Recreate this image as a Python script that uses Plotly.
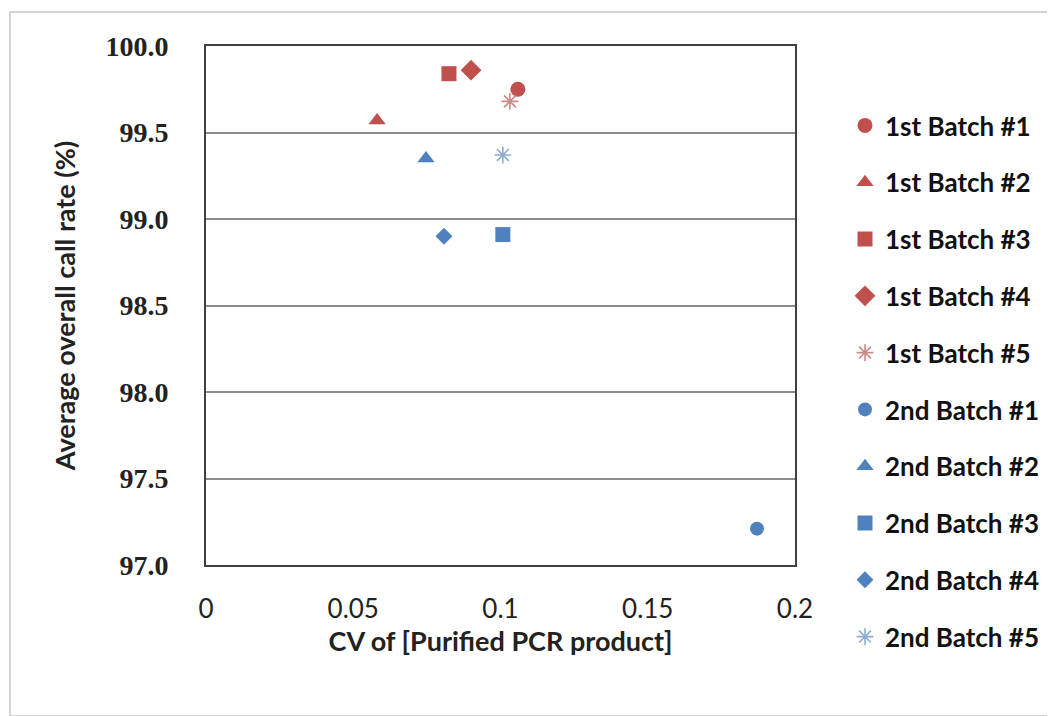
import plotly.graph_objects as go

names = ["1st Batch #1", "1st Batch #2", "1st Batch #3", "1st Batch #4", "1st Batch #5",
         "2nd Batch #1", "2nd Batch #2", "2nd Batch #3", "2nd Batch #4", "2nd Batch #5"]
cv_values = [0.1059, 0.0581, 0.0825, 0.0900, 0.1032,
             0.1871, 0.0747, 0.1008, 0.0808, 0.1008]
call_rates = [99.75, 99.57, 99.84, 99.86, 99.68,
              97.21, 99.35, 98.91, 98.90, 99.37]
symbols = ["circle", "triangle-up", "square", "diamond", "asterisk-open",
           "circle", "triangle-up", "square", "diamond", "asterisk-open"]
sizes = [15, 15, 15, 16, 14, 14, 15, 15, 13, 14]
colors = ["#C0504D", "#C0504D", "#C0504D", "#C0504D", "#C98A88",
          "#4F81BD", "#4F81BD", "#4F81BD", "#4F81BD", "#8EACD0"]
x_ticks = [0, 0.05, 0.1, 0.15, 0.2]
x_tick_labels = ["0", "0.05", "0.1", "0.15", "0.2"]
y_ticks = [97.0, 97.5, 98.0, 98.5, 99.0, 99.5, 100.0]

fig = go.Figure()
for i, n in enumerate(names):
    sym = symbols[i]
    if sym == "asterisk-open":
        marker = dict(symbol=sym, size=sizes[i], color=colors[i],
                      line=dict(color=colors[i], width=1.6))
    else:
        marker = dict(symbol=sym, size=sizes[i], color=colors[i], line=dict(width=0))
    fig.add_trace(go.Scatter(x=[cv_values[i]], y=[call_rates[i]], mode="markers",
                             name=n, marker=marker, legendgroup=n))

W, H = 1055, 716
OFF = 6
L, R, T, B = 204 - OFF, 793 - OFF, 44 - OFF, 563 - OFF
pw, ph = R - L, B - T

def px2paper(xp, yp):
    return (xp - OFF - L) / pw, (B - (yp - OFF)) / ph

x0, y0 = px2paper(8, 714)
x1, y1 = px2paper(1053, 10)
lx, ly = px2paper(843, 100)

fig.update_layout(
    width=W, height=H,
    margin=dict(l=L, r=W - R, t=T, b=H - B, pad=0),
    paper_bgcolor="white", plot_bgcolor="white",
    showlegend=True,
    legend=dict(x=lx, y=ly, xanchor="left", yanchor="top", maxheight=700,
                font=dict(family="Lato", size=26, color="#111111", weight="bold"),
                tracegroupgap=20, itemsizing="trace", bgcolor="rgba(0,0,0,0)"),
    xaxis=dict(range=[0, 0.2], tickvals=x_ticks, ticktext=x_tick_labels,
               showgrid=False, zeroline=False, showline=True, linecolor="#404040",
               linewidth=2, mirror=True, ticks="", ticklabelstandoff=20,
               tickfont=dict(family="Lato", size=26, color="#222222"),
               title=dict(text="CV of [Purified PCR product]", standoff=6,
                          font=dict(family="Lato", size=27, color="#222222", weight="bold"))),
    yaxis=dict(range=[97.0, 100.0], tickvals=y_ticks, tickformat=".1f",
               showgrid=True, gridcolor="#8C8C8C", gridwidth=1.5, zeroline=False,
               showline=True, linecolor="#404040", linewidth=2, mirror=True,
               ticks="", ticklabelstandoff=30,
               tickfont=dict(family="Liberation Serif", size=28, color="#222222", weight="bold"),
               title=dict(text="Average overall call rate (%)", standoff=22,
                          font=dict(family="Lato", size=27, color="#222222", weight="bold"))),
    shapes=[dict(type="rect", xref="paper", yref="paper", x0=x0, y0=y0, x1=x1, y1=y1,
                 line=dict(color="#C8C8C8", width=1.5), layer="below")],
)

fig.write_html("out.html")
